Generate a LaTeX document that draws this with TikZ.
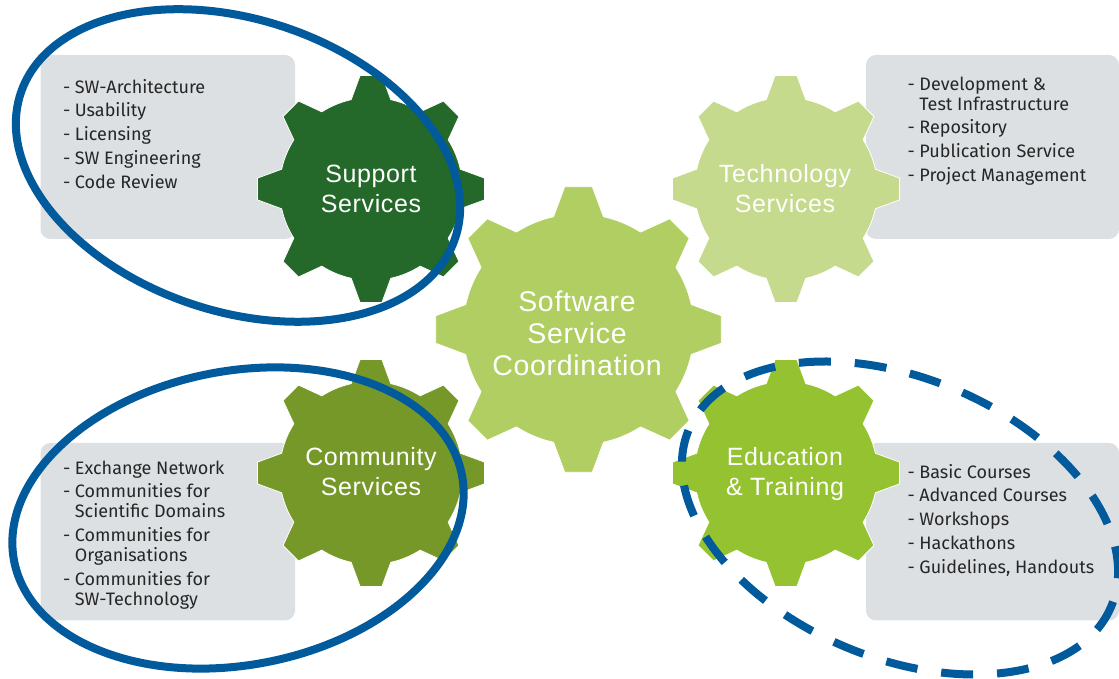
\documentclass[tikz,border=0pt]{standalone}
\usepackage{fontspec}
\setmainfont{Fira Sans}
\newfontfamily\gearfont[LetterSpace=2.5]{Liberation Sans}
\definecolor{gdark}{HTML}{24692A}
\definecolor{gmain}{HTML}{B0CE62}
\definecolor{gtech}{HTML}{C5DA8C}
\definecolor{gcomm}{HTML}{769828}
\definecolor{gedu}{HTML}{95C230}
\definecolor{boxgray}{HTML}{DCE0E3}
\definecolor{ringblue}{HTML}{005A9C}
\newcommand{\gearshape}[5]{%
  \begin{scope}[shift={(#1,#2)}]
    \path[fill=#5,draw=white,line width=0.8pt,line join=round]
      (-12.5:#4) foreach \a in {0,45,...,315} {
        -- ({\a-12.5}:#4) -- ({\a-5.5}:#3) -- ({\a+5.5}:#3) -- ({\a+12.5}:#4)
        arc[start angle=\a+12.5,end angle=\a+32.5,radius=#4]
      } -- cycle;
  \end{scope}}
\newcommand{\itm}[1]{\makebox[11.7pt][l]{-}#1}
\newcommand{\cont}[1]{\hspace*{11.7pt}#1}
\newcommand{\first}{\rule{0pt}{14pt}}
\tikzset{
  infobox/.style={fill=boxgray,rounded corners=10pt},
  ringline/.style={draw=ringblue,line width=8pt},
  geartext/.style={text=white,align=center,font=\gearfont\fontsize{25}{30}\selectfont,inner sep=0pt},
  maintext/.style={text=white,align=center,font=\gearfont\fontsize{28.5}{32}\selectfont,inner sep=0pt},
  listtext/.style={text=black!85,align=left,anchor=north west,inner sep=0pt,font=\fontsize{18}{20}\selectfont}
}
\begin{document}
\begin{tikzpicture}[x=1pt,y=1pt]
\useasboundingbox (0,0) rectangle (1119,679);
\fill[white] (0,0) rectangle (1119,679);
% boxes
\path[infobox] (40.5,440) rectangle (295,624);
\path[infobox] (866,440) rectangle (1119,624);
\path[infobox] (40.5,58.5) rectangle (295,236);
\path[infobox] (866,58.5) rectangle (1119,236);
% gears
\gearshape{371}{490}{114}{91.5}{gdark}
\gearshape{786}{490}{114}{91.5}{gtech}
\gearshape{371}{206}{114}{91.5}{gcomm}
\gearshape{786}{206}{114}{91.5}{gedu}
\gearshape{578.5}{349.5}{143.5}{115.5}{gmain}
% gear labels
\node[geartext] (support) at (371,490) {Support\\Services};
\node[geartext] (tech) at (785,490) {Technology\\Services};
\node[geartext] (community) at (371,207) {Community\\Services};
\node[geartext] (education) at (785,205) {Education\\\&~Training};
\node[maintext] (main) at (577,346) {Software\\Service\\Coordination};
% lists
\node[listtext] (l1) at (63,600) {\first\itm{SW-Architecture}\\[3.7pt]\itm{Usability}\\[3.7pt]\itm{Licensing}\\[3.7pt]\itm{SW Engineering}\\[3.7pt]\itm{Code Review}};
\node[listtext] (l2) at (907.5,603) {\first\itm{Development \&}\\\cont{Test Infrastructure}\\[3.7pt]\itm{Repository}\\[3.7pt]\itm{Publication Service}\\[3.7pt]\itm{Project Management}};
\node[listtext] (l3) at (63,219) {\first\itm{Exchange Network}\\[3.7pt]\itm{Communities for}\\\cont{Scientific Domains}\\[3.7pt]\itm{Communities for}\\\cont{Organisations}\\[3.7pt]\itm{Communities for}\\\cont{SW-Technology}};
\node[listtext] (l4) at (907.5,215) {\first\itm{Basic Courses}\\[3.7pt]\itm{Advanced Courses}\\[3.7pt]\itm{Workshops}\\[3.7pt]\itm{Hackathons}\\[3.7pt]\itm{Guidelines, Handouts}};
% rings
\draw[ringline,rotate around={-18.4:(238,513.5)}] (238,513.5) ellipse [x radius=229,y radius=146];
\draw[ringline,rotate around={10.8:(238,161)}] (238,161) ellipse [x radius=228,y radius=147];
\draw[ringline,dash pattern=on 32pt off 24pt,dash phase=27pt,rotate around={-22.7:(900,161)}] (900,161) ellipse [x radius=229,y radius=140];
\end{tikzpicture}
\end{document}
